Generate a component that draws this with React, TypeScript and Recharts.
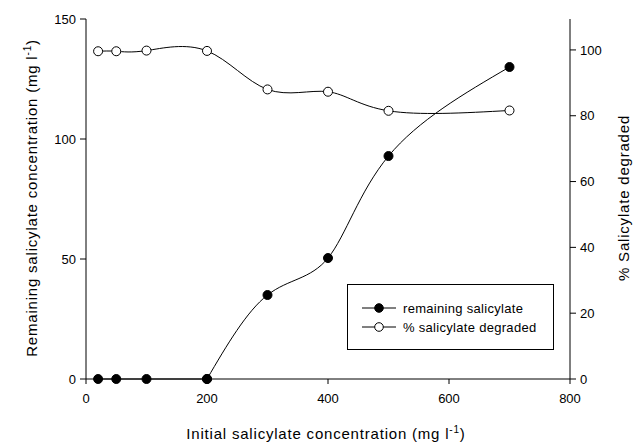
import React from "react";
import {
  LineChart,
  Line,
  XAxis,
  YAxis,
} from "recharts";

const concentrations = [20, 50, 100, 200, 300, 400, 500, 700];
const remaining = [0, 0, 0, 0, 35, 50.4, 92.9, 130];
const degraded = [99.6, 99.6, 99.8, 99.7, 88, 87.3, 81.5, 81.6];

const xTicks = [0, 200, 400, 600, 800];
const leftTicks = [0, 50, 100, 150];
const rightTicks = [0, 20, 40, 60, 80, 100];

// remaining salicylate is flat up to 200, then a smooth spline beyond it
const splitAt = 200;
const data = concentrations.map((c, i) => ({
  conc: c,
  remLow: c <= splitAt ? remaining[i] : undefined,
  remHigh: c >= splitAt ? remaining[i] : undefined,
  degraded: degraded[i],
}));

const font = "Arial, 'Liberation Sans', Helvetica, sans-serif";
const tickStyle = { fontSize: 13, fill: "#000", fontFamily: font };

const legendItems = [
  { label: "remaining salicylate", fill: "#000" },
  { label: "% salicylate degraded", fill: "#fff" },
];

const LegendBox = () => (
  <div
    style={{
      position: "absolute",
      left: 347,
      top: 284,
      width: 205,
      height: 64,
      border: "1px solid #000",
      background: "#fff",
      fontFamily: font,
      fontSize: 13,
      letterSpacing: 0.3,
      color: "#000",
    }}
  >
    {legendItems.map((item, i) => (
      <div
        key={i}
        style={{
          position: "absolute",
          left: 14,
          top: 15 + i * 19,
          display: "flex",
          alignItems: "center",
          height: 16,
          whiteSpace: "nowrap",
        }}
      >
        <svg width={34} height={12}>
          <line x1={0} y1={6} x2={34} y2={6} stroke="#000" strokeWidth={1} />
          <circle cx={17} cy={6} r={4.3} fill={item.fill} stroke="#000" />
        </svg>
        <span style={{ marginLeft: 7 }}>{item.label}</span>
      </div>
    ))}
  </div>
);

const titleProps = {
  fontFamily: font,
  fontSize: 15,
  letterSpacing: 0.8,
  fill: "#000",
  textAnchor: "middle" as const,
};

export default function App() {
  return (
    <div style={{ position: "absolute", left: 0, top: 0, width: 635, height: 444, background: "#fff" }}>
      <LineChart
        width={635}
        height={444}
        data={data}
        margin={{ top: 19, right: 0, left: 0, bottom: 0 }}
      >
        <XAxis
          xAxisId="top"
          orientation="top"
          dataKey="conc"
          type="number"
          domain={[0, 800]}
          tick={false}
          tickLine={false}
          height={0}
          stroke="#000"
        />
        <XAxis
          dataKey="conc"
          type="number"
          domain={[0, 800]}
          ticks={xTicks}
          tick={tickStyle}
          tickSize={5}
          tickMargin={10}
          tickLine={{ stroke: "#000" }}
          stroke="#000"
          height={65}
          label={{
            content: () => (
              <text x={326} y={439} {...titleProps}>
                Initial salicylate concentration (mg l
                <tspan dy={-6} fontSize={10}>-1</tspan>
                <tspan dy={6}>)</tspan>
              </text>
            ),
          }}
        />
        <YAxis
          yAxisId="left"
          domain={[0, 150]}
          ticks={leftTicks}
          tick={tickStyle}
          tickSize={6}
          tickMargin={4}
          tickLine={{ stroke: "#000" }}
          stroke="#000"
          width={86}
          label={{
            content: () => (
              <text x={37} y={198} transform="rotate(-90 37 198)" {...titleProps}>
                Remaining salicylate concentration (mg l
                <tspan dy={-6} fontSize={10}>-1</tspan>
                <tspan dy={6}>)</tspan>
              </text>
            ),
          }}
        />
        <YAxis
          yAxisId="right"
          orientation="right"
          domain={[0, 109.4]}
          ticks={rightTicks}
          tick={tickStyle}
          tickSize={6}
          tickMargin={4}
          tickLine={{ stroke: "#000" }}
          stroke="#000"
          width={65}
          label={{
            content: () => (
              <text x={629} y={198} transform="rotate(-90 629 198)" {...titleProps}>
                % Salicylate degraded
              </text>
            ),
          }}
        />
        <Line
          yAxisId="left"
          type="linear"
          dataKey="remLow"
          stroke="#000"
          strokeWidth={1}
          dot={{ r: 4.5, fill: "#000", stroke: "#000", strokeWidth: 1 }}
          activeDot={false}
          isAnimationActive={false}
        />
        <Line
          yAxisId="left"
          type="natural"
          dataKey="remHigh"
          stroke="#000"
          strokeWidth={1}
          dot={{ r: 4.5, fill: "#000", stroke: "#000", strokeWidth: 1 }}
          activeDot={false}
          isAnimationActive={false}
        />
        <Line
          yAxisId="right"
          type="natural"
          dataKey="degraded"
          stroke="#000"
          strokeWidth={1}
          dot={{ r: 4.5, fill: "#fff", stroke: "#000", strokeWidth: 1 }}
          activeDot={false}
          isAnimationActive={false}
        />
      </LineChart>
      <LegendBox />
    </div>
  );
}
